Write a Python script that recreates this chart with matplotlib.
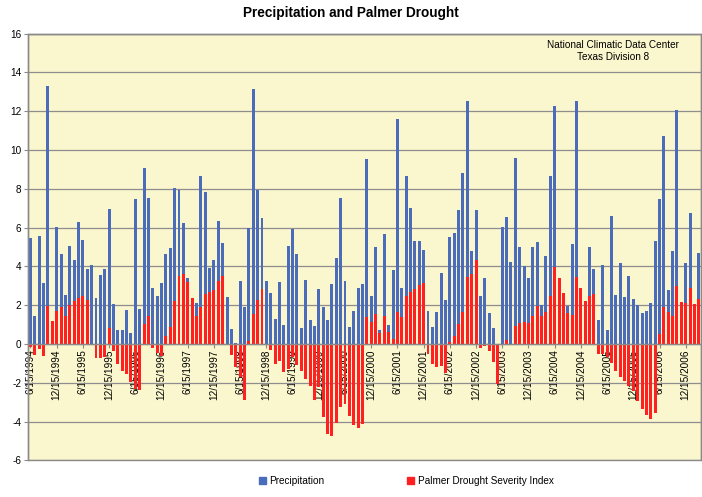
import matplotlib
matplotlib.use('Agg')
import matplotlib.pyplot as plt
from matplotlib.patches import Patch, Rectangle
import numpy as np
import pandas as pd

plt.rcParams['font.family'] = ['Liberation Sans', 'DejaVu Sans']
plt.rcParams['axes.unicode_minus'] = False

# Monthly data, June 1994 .. March 2007
start_month = '1994-06-01'
precipitation = [
    5.48, 1.45, 5.56, 3.12, 13.28, 1.10, 6.05, 4.65, 2.53, 5.06,
    4.32, 6.30, 5.34, 3.86, 4.07, 2.36, 3.55, 3.84, 6.98, 2.08,
    0.74, 0.71, 1.76, 0.55, 7.49, 1.81, 9.06, 7.55, 2.91, 2.45,
    3.12, 4.62, 4.93, 8.04, 7.96, 6.22, 3.38, 2.10, 2.10, 8.65,
    7.82, 3.94, 4.34, 6.36, 5.20, 2.41, 0.79, 0.05, 3.24, 1.89,
    5.96, 13.16, 7.92, 6.48, 3.27, 2.64, 1.27, 3.20, 1.00, 5.06,
    5.93, 4.65, 0.84, 3.31, 1.21, 0.93, 2.81, 1.93, 1.22, 3.08,
    4.44, 7.51, 3.24, 0.86, 1.71, 2.89, 3.10, 9.56, 2.45, 4.98,
    0.72, 5.65, 0.96, 3.81, 11.58, 2.89, 8.68, 7.01, 5.32, 5.32,
    4.84, 1.69, 0.90, 1.67, 3.67, 2.26, 5.51, 5.74, 6.91, 8.80,
    12.52, 4.81, 6.93, 2.45, 3.41, 1.62, 0.84, 0.02, 6.05, 6.56,
    4.24, 9.58, 5.00, 4.01, 3.41, 5.01, 5.27, 2.00, 4.53, 8.68,
    12.25, 3.00, 2.50, 1.96, 5.15, 12.54, 2.70, 2.00, 5.01, 3.86,
    1.21, 4.07, 0.74, 6.60, 2.52, 4.17, 2.43, 3.53, 2.34, 2.02,
    1.58, 1.71, 2.12, 5.31, 7.49, 10.75, 2.79, 4.79, 12.06, 2.00,
    4.15, 6.75, 1.90, 4.67,
]
pdsi = [
    -0.15, -0.57, -0.26, -0.64, 1.98, 1.17, 1.72, 1.93, 1.46, 2.02,
    2.19, 2.39, 2.46, 2.26, 0.00, -0.72, -0.72, -0.65, 0.81, -0.34,
    -1.03, -1.41, -1.55, -1.98, -2.30, -2.38, 1.03, 1.45, -0.20, -0.47,
    -0.60, 0.41, 0.88, 2.24, 3.50, 3.62, 3.17, 2.38, 1.46, 1.89,
    2.58, 2.69, 2.79, 3.24, 3.50, -0.05, -0.57, -1.21, -1.72, -2.89,
    0.14, 1.55, 2.27, 2.83, 0.00, -0.31, -1.03, -0.86, -1.43, -1.29,
    -0.69, -1.07, -1.41, -1.81, -2.19, -2.89, -2.24, -3.79, -4.65, -4.74,
    -4.10, -3.27, -3.10, -3.70, -4.17, -4.34, -4.13, 1.38, 1.14, 1.57,
    0.59, 1.46, 0.60, 0.26, 1.64, 1.38, 2.45, 2.67, 2.83, 3.05,
    3.15, -0.52, -1.03, -1.21, -1.12, -1.52, 0.12, 0.41, 1.03, 1.67,
    3.43, 3.62, 4.31, -0.22, -0.09, -0.34, -0.95, -2.07, 0.00, 0.21,
    0.02, 0.93, 1.10, 1.12, 1.10, 1.46, 1.98, 1.43, 1.65, 2.48,
    3.96, 3.39, 2.64, 1.58, 1.48, 3.43, 2.89, 2.19, 2.48, 2.58,
    -0.52, -0.52, -0.69, -1.00, -1.41, -1.72, -1.89, -2.15, -2.45, -2.93,
    -3.36, -3.67, -3.88, -3.58, 0.52, 1.89, 1.67, 1.45, 3.01, 2.14,
    2.10, 2.91, 2.05, 2.31,
]
series_names = ['Precipitation', 'Palmer Drought Severity Index']
title = 'Precipitation and Palmer Drought'
note = 'National Climatic Data Center\nTexas Division 8'

n = len(precipitation)
dates = pd.date_range(start_month, periods=n, freq='MS') + pd.Timedelta(days=14)
categories = [f'{d.month}/{d.day}/{d.year}' for d in dates]
tick_step = 6
tick_positions = list(range(0, n, tick_step))
tick_labels = [categories[i] for i in tick_positions]

BLUE = '#4A6CBB'
RED = '#FF2121'
GRID = '#8E8E8E'
fs = 7.2

fig = plt.figure(figsize=(7.02, 4.97), dpi=100)
fig.patch.set_facecolor('white')
ax = fig.add_axes([28.3 / 702, 1 - 460.3 / 497, (701 - 28.3) / 702, (460.3 - 33.7) / 497])
ax.set_facecolor('#FAF6CD')

x = np.arange(n)
ax.bar(x, precipitation, width=0.68, color=BLUE, zorder=2, label=series_names[0])
ax.bar(x, pdsi, width=0.68, color=RED, zorder=3, label=series_names[1])

ax.set_xlim(-0.5, n - 0.5)
ax.set_ylim(-6, 16)
ax.set_yticks(range(-6, 17, 2))
ax.yaxis.grid(True, color=GRID, lw=0.9, zorder=1)
ax.set_axisbelow(True)

for s in ['top', 'right', 'left']:
    ax.spines[s].set_color('#8a8a8a')
    ax.spines[s].set_linewidth(1.0)
ax.spines['bottom'].set_position(('data', 0))
ax.spines['bottom'].set_color('#8a8a8a')
ax.spines['bottom'].set_linewidth(1.0)
ax.spines['bottom'].set_zorder(4)
ax.add_patch(Rectangle((0, 0), 1, 1, transform=ax.transAxes, fill=False,
                       edgecolor='#8a8a8a', lw=1.0, zorder=5, clip_on=False))

ax.set_xticks(tick_positions)
ax.set_xticklabels(tick_labels, rotation=90, fontsize=fs)
ax.tick_params(axis='x', length=3, color='#8a8a8a', pad=1)
ax.tick_params(axis='y', length=3, color='#8a8a8a', labelsize=fs, pad=2)

fig.text(0.5, 1 - 13 / 497, title, ha='center', va='center', fontsize=9.8, fontweight='bold')
ax.text(613 / 702, 1 - 51.5 / 497, note, transform=fig.transFigure, ha='center', va='center',
        fontsize=fs, linespacing=1.25)

handles = [Patch(color=BLUE), Patch(color=RED)]
fig.legend(handles, series_names, loc='center', bbox_to_anchor=(406 / 702, 1 - 481 / 497),
           ncol=2, frameon=False, fontsize=fs, handlelength=0.7, handleheight=0.7,
           handletextpad=0.35, columnspacing=8.3)

fig.savefig('out.png', dpi=100, facecolor='white')
